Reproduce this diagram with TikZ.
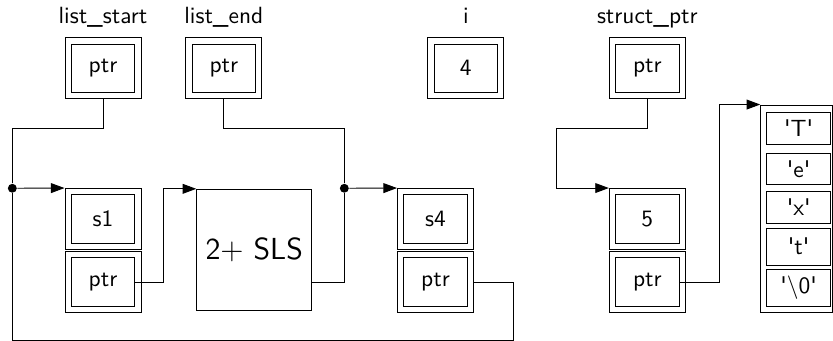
\documentclass[tikz,border=0pt]{standalone}
\usepackage{tikz}
\usetikzlibrary{arrows.meta, positioning}
\renewcommand{\familydefault}{\sfdefault}

\begin{document}
\begin{tikzpicture}[
  box/.style={draw, minimum width=1.14cm, minimum height=0.915cm, inner sep=0pt,
    path picture={\draw ([shift={(0.095cm,0.095cm)}]path picture bounding box.south west)
      rectangle ([shift={(-0.095cm,-0.095cm)}]path picture bounding box.north east);}},
  varname/.style={inner sep=0pt, outer sep=0pt, text depth=0pt, yshift=6pt},
  charcell/.style={draw, minimum width=0.96cm, inner sep=0pt},
  joint/.style={circle, fill, inner sep=0pt, minimum size=3.8pt},
  link/.style={-{Triangle[length=5.8pt,width=4.2pt]}},
  frominner/.style={shorten <=-2.7pt}]

  \useasboundingbox (0,0) rectangle (12.495,5.1);

  % Variables on top
  \node[box, label={[varname]above:list\_start}] (lstart) at (1.545,4.077) {ptr};
  \node[box, label={[varname]above:list\_end}] (lend) at (3.357,4.077) {ptr};
  \node[box, label={[varname]above:i}] (ivar) at (6.987,4.077) {4};
  \node[box, label={[varname]above:struct\_ptr}] (sptr) at (9.71,4.077) {ptr};

  % List: s1, the rest, s4
  \node[box] (s1) at (1.545,1.815) {s1};
  \node[box, below=0.5pt of s1] (s1p) {ptr};
  \node[draw, minimum width=1.725cm, minimum height=1.815cm,
    font=\fontsize{13}{15}\selectfont] (sls) at (3.813,1.353) {2+ SLS};
  \node[box] (s4) at (6.5325,1.815) {s4};
  \node[box, below=0.5pt of s4] (s4p) {ptr};

  % Struct and its char array
  \node[box] (n5) at (9.71,1.815) {5};
  \node[box, below=0.5pt of n5] (n5p) {ptr};
  \node[draw, minimum width=1.074cm, minimum height=3.11cm] (chars) at (11.9475,1.970) {};
  \foreach \y/\h/\c [count=\k] in {3.175/0.47/T, 2.568/0.465/e, 1.988/0.474/x,
      1.400/0.55/t, 0.782/0.566/\textbackslash 0}
    \node[charcell, minimum height=\h cm] (c\k) at (11.98,\y)
      {\textquotesingle\c\textquotesingle};

  % Joints and the loop back
  \node[joint] (dot1) at (0.185,2.276) {};
  \node[joint] (dot2) at (5.165,2.276) {};
  \coordinate (loop) at (7.7,0);

  % Pointers
  \draw (lstart.south) -- ++(0,-0.44) -| (dot1);
  \draw[link] (dot1) -- (s1.north west);
  \draw (s4p.east) -| (loop) -| (dot1);
  \draw[link, frominner] (s1p.east) -- ++(0.33,0) |- (sls.north west);
  \draw (lend.south) -- ++(0,-0.44) -| (dot2);
  \draw (sls.east |- s1p.east) -| (dot2);
  \draw[link] (dot2) -- (s4.north west);
  \draw[link] (sptr.south) -- ++(0,-0.44) -| ([xshift=-0.79cm]n5.north west)
    -- (n5.north west);
  \draw[link, frominner] (n5p.east) -- ++(0.51,0) |- (chars.north west);

\end{tikzpicture}
\end{document}
